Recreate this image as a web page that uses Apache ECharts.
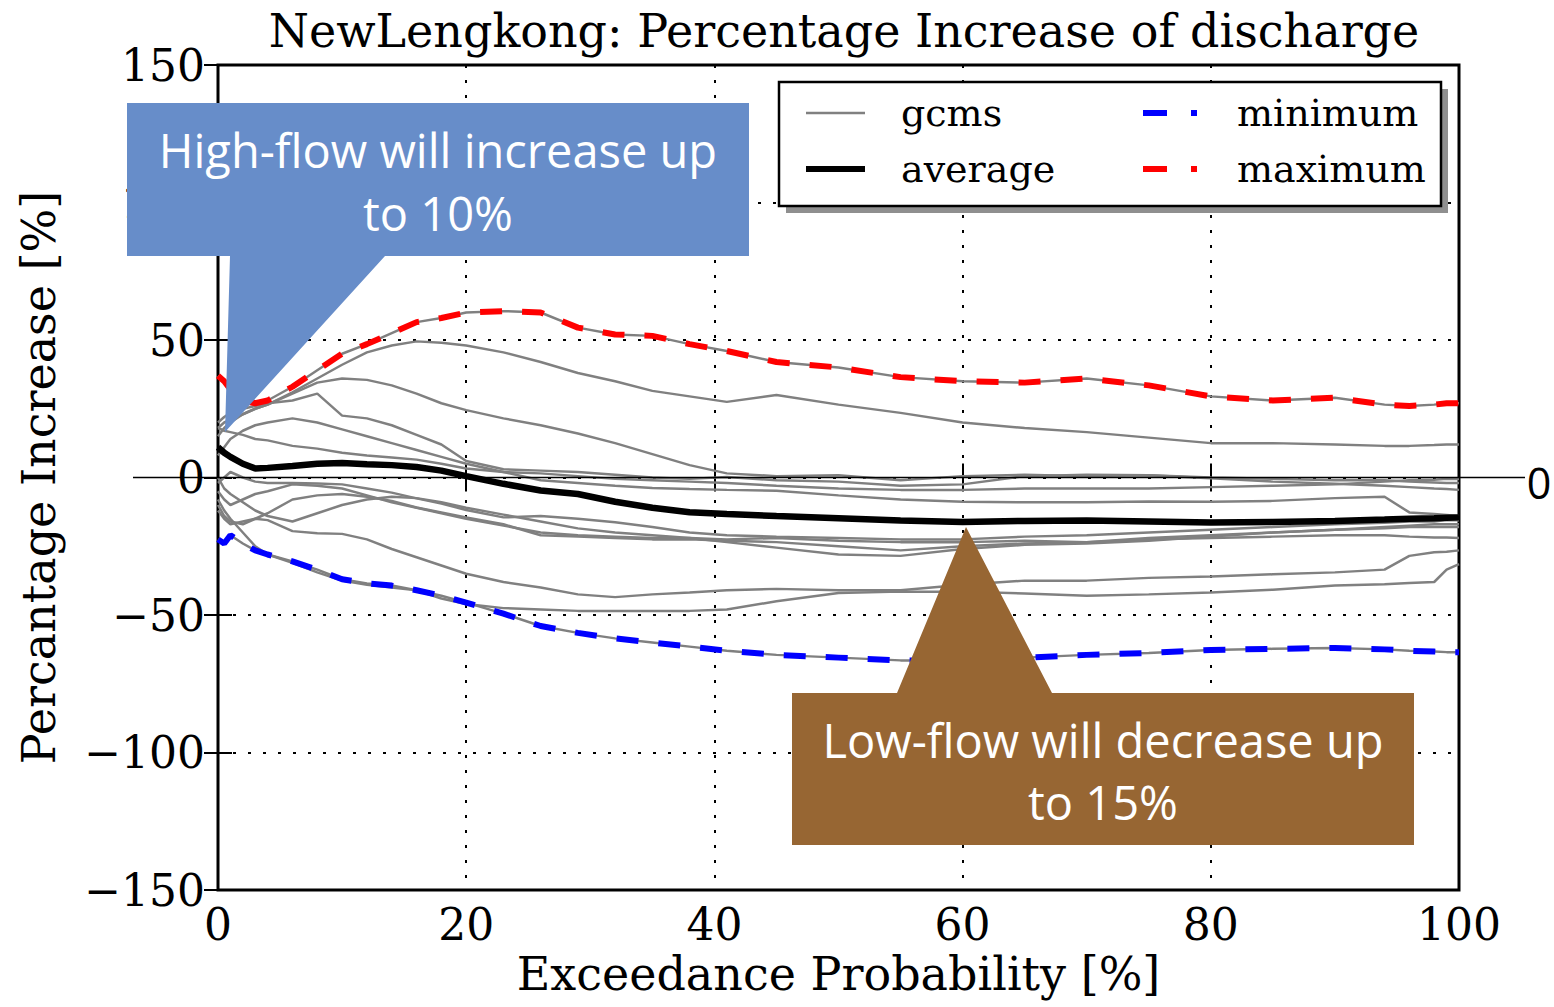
<!DOCTYPE html>
<html>
<head>
<meta charset="utf-8">
<title>NewLengkong: Percentage Increase of discharge</title>
<script src="https://cdn.jsdelivr.net/npm/echarts@6/dist/echarts.min.js"></script>
<style>
  html, body { margin: 0; padding: 0; background: #ffffff; }
  #chart { width: 1554px; height: 1007px; }
</style>
</head>
<body>
<div id="chart"></div>
<script>
// Exceedance probability [%] shared by every curve
const exceedance = [0, 0.5, 1, 2, 3, 4, 6, 8, 10, 12, 14, 16, 18, 20, 23, 26, 29, 32, 35, 38, 41,
                    45, 50, 55, 60, 65, 70, 75, 80, 85, 90, 94, 96, 98, 99, 100];

// Envelope and ensemble mean of the GCM runs (percentage increase of discharge)
const maximumIncrease = [37, 35, 32, 28, 27, 28, 33, 39, 45, 48.5, 52.5, 56.5, 58, 60, 60.5, 60, 54.5, 52, 51.5, 48.5, 46,
                         42, 40, 36.5, 35, 34.5, 36, 33.5, 29.5, 28, 29, 26.5, 26, 26.5, 27, 27];
const minimumIncrease = [-22.5, -24, -21, -24, -26.5, -28, -30.5, -33.5, -37, -38.5, -39.3, -41, -43, -45.5, -49.5, -54, -56.5, -58.5, -60, -61.5, -63,
                         -64.5, -65.5, -66.5, -66.5, -65.5, -64.5, -63.8, -62.7, -62.3, -62, -62.5, -63, -63.3, -63.5, -63.5];
const averageIncrease = [11, 9, 7.5, 5, 3.3, 3.5, 4.2, 5, 5.3, 4.8, 4.5, 3.8, 2.5, 0.5, -2.3, -4.7, -6, -8.8, -11, -12.6, -13.3,
                         -14, -14.8, -15.6, -16.2, -15.8, -15.6, -16, -16.4, -16.2, -15.8, -15.3, -15, -14.8, -14.6, -14.5];

// Individual GCM runs
const gcmC = [18, 20, 21, 23, 25, 26.5, 31, 36, 41, 45.5, 48, 49.5, 49, 48, 45.5, 42, 38, 35, 31.5, 29.5, 27.5,
              30, 26.5, 23.5, 20, 18, 16.5, 14.5, 12.5, 12.5, 12, 11.5, 11.5, 11.8, 12, 12];
const gcmD = [15, 18, 20, 23, 25, 26.5, 30.5, 34.5, 36, 35.5, 33.5, 30.5, 27, 24.5, 21.5, 19, 16, 12.5, 8.5, 4.5, 1.5,
              0.5, 0.8, -1, 0.5, 1, 0.5, 0.8, -0.3, -1.5, -2.3, -3, -3.5, -4, -4.2, -4.5];
const gcmE = [20, 22, 23.5, 25, 26, 27, 28, 30.5, 22.5, 21.5, 19, 15.5, 12, 6, 3, 2.5, 2, 1, 0, -0.5, 0.2,
              -1, -1.5, -3, -2.5, 0.5, 1, 0.8, 0, -0.5, -1, -1, -1.5, -1.8, -2, -2];
const gcmF = [18, 17, 16.5, 15.5, 14, 13.5, 11.5, 10.5, 9, 8, 7.3, 6.5, 5, 3.3, 2, 1.5, 0.5, -0.5, -1, -1.5, -2,
              -3, -4, -4.5, -4.5, -4, -4, -4, -3.5, -3, -2.5, -1.5, -1, -0.8, -0.5, -0.5];
const gcmG = [8, 11, 14, 17, 19, 20, 21.5, 20, 17.5, 15, 12.5, 10, 7.5, 5, 2, -1, -2, -3, -3.8, -4.2, -4.5,
              -4.8, -6.5, -8, -8.8, -9, -9, -8.7, -8.8, -8.5, -7.5, -7, -12.7, -13.3, -13.6, -14];
const gcmH = [-2, 0, 2, 0, -1.5, -2, -2, -2.2, -2.5, -4, -5.5, -7.6, -9.5, -11.8, -14.5, -14, -15, -16.3, -18, -20, -21,
              -21.5, -22, -22.5, -22.5, -21.5, -21, -20, -19, -18, -17, -16.5, -16, -16, -15.5, -15.5];
const gcmI = [-5, -8, -10, -8, -6, -5, -2.5, -3, -4, -6.5, -9, -11, -13, -15, -17.5, -20, -21, -21.5, -22, -22, -22.5,
              -22, -23, -23.5, -23.5, -23, -23.5, -22, -21, -20, -19, -18, -17.5, -17, -17, -17];
const gcmJ = [-10, -14, -16, -17, -15, -13, -8, -6.5, -6, -7, -8.5, -10.9, -12.7, -14.5, -17, -21, -21.5, -22, -22.5, -22.5, -23,
              -23.5, -25, -26.5, -25, -24, -23.5, -22.5, -22, -21.5, -21, -21, -21.5, -21.8, -21.8, -22];
const gcmN = [0, -4, -6, -9, -12, -14, -16, -13, -10, -8, -7, -7.5, -9, -11, -13.5, -16, -18.5, -20, -21, -22, -23.5,
              -25.5, -28, -28.5, -26, -24.5, -24, -23, -21.5, -20, -19, -18.5, -18, -18, -18, -18];
const gcmK = [-12, -15, -17, -16, -15, -15.5, -19.5, -20.3, -20.5, -22.5, -26, -29, -32, -35, -38, -40, -42.5, -43.5, -42.5, -41.8, -41,
              -40.5, -41, -41, -39, -37.5, -37.5, -36.5, -36, -35.2, -34.5, -33.5, -28.5, -27.2, -27, -26.5];
const gcmL = [-8, -12, -15, -20, -25, -28, -31, -34.5, -37.5, -39, -40, -41, -44, -46, -47.5, -48, -48.5, -48.5, -48.5, -48.5, -48,
              -45, -42, -41.5, -41.5, -42.2, -43, -42.5, -41.8, -40.8, -39.3, -38.8, -38.4, -38, -33.5, -31.5];

// The wettest and driest runs form the envelope
const gcms = [maximumIncrease, gcmC, gcmD, gcmE, gcmF, gcmG, gcmH, gcmI, gcmJ, gcmN, gcmK, gcmL, minimumIncrease];

// Axis ticks
const xTicks = [0, 20, 40, 60, 80, 100];
const yTicks = [-150, -100, -50, 0, 50, 100, 150];

const SERIF = "'DejaVu Serif', serif";
const NOTE_FONT = "'Open Sans', sans-serif";

const GCM_GREY = '#808080';
const MIN_BLUE = '#0000ff';
const MAX_RED = '#ff0000';

const chart = echarts.init(document.getElementById('chart'), null, { renderer: 'svg', width: 1554, height: 1007 });

const toPairs = ys => exceedance.map((x, i) => [x, ys[i]]);
const minusSign = v => String(v).replace('-', '\u2212');

const tickStyle = { inside: true, length: 14, lineStyle: { color: '#000', width: 2 } };
const dotted = { show: true, lineStyle: { color: '#000', width: 2, type: [3, 12] } };
const xStep = xTicks[1] - xTicks[0];
const yStep = yTicks[1] - yTicks[0];

const gcmSeries = gcms.map(ys => ({
  name: 'gcms',
  type: 'line',
  data: toPairs(ys),
  symbol: 'none',
  silent: true,
  itemStyle: { color: GCM_GREY },
  lineStyle: { color: GCM_GREY, width: 2.5 },
  z: 2
}));

// legend samples: line only, no marker
const hiddenMarker = { opacity: 0 };
const dashDot = [24, 24, 6, 30];
const legendText = { fontFamily: SERIF, fontSize: 38, lineHeight: 38, color: '#000' };

const option = {
  animation: false,
  backgroundColor: '#ffffff',
  title: {
    text: 'NewLengkong: Percentage Increase of discharge',
    left: 839,
    top: 3,
    textAlign: 'center',
    textStyle: { fontFamily: SERIF, fontSize: 46, fontWeight: 'normal', color: '#000' }
  },
  grid: {
    left: 218, top: 65, width: 1241, height: 825,
    show: true, borderColor: '#000', borderWidth: 3, backgroundColor: 'transparent'
  },
  legend: [
    {
      data: [
        { name: 'gcms', itemStyle: hiddenMarker, lineStyle: { color: GCM_GREY, width: 2.5 } },
        { name: 'average', itemStyle: hiddenMarker, lineStyle: { color: '#000', width: 6 } }
      ],
      orient: 'vertical', left: 803, top: 94, padding: 0,
      itemWidth: 59, itemHeight: 20, itemGap: 18,
      selectedMode: false, z: 150,
      textStyle: Object.assign({ padding: [0, 0, 0, 31] }, legendText)
    },
    {
      data: [
        { name: 'minimum', itemStyle: hiddenMarker, lineStyle: { color: MIN_BLUE, width: 6, type: dashDot } },
        { name: 'maximum', itemStyle: hiddenMarker, lineStyle: { color: MAX_RED, width: 6, type: dashDot } }
      ],
      orient: 'vertical', left: 1140, top: 94, padding: 0,
      itemWidth: 54, itemHeight: 20, itemGap: 18,
      selectedMode: false, z: 150,
      textStyle: Object.assign({ padding: [0, 0, 0, 35] }, legendText)
    }
  ],
  xAxis: [
    {
      type: 'value', position: 'bottom',
      min: xTicks[0], max: xTicks[xTicks.length - 1], interval: xStep,
      name: 'Exceedance Probability [%]', nameLocation: 'middle', nameGap: 61,
      nameTextStyle: { fontFamily: SERIF, fontSize: 46, color: '#000' },
      axisLine: { show: false },
      axisTick: tickStyle,
      axisLabel: { fontFamily: SERIF, fontSize: 44, color: '#000', margin: 12 },
      splitLine: dotted
    },
    {
      type: 'value', position: 'top',
      min: xTicks[0], max: xTicks[xTicks.length - 1], interval: xStep,
      axisLine: { show: false }, axisTick: tickStyle,
      axisLabel: { show: false }, splitLine: { show: false }
    }
  ],
  yAxis: [
    {
      type: 'value', position: 'left',
      min: yTicks[0], max: yTicks[yTicks.length - 1], interval: yStep,
      name: 'Percantage Increase [%]', nameLocation: 'middle', nameGap: 156,
      nameTextStyle: { fontFamily: SERIF, fontSize: 46, color: '#000' },
      axisLine: { show: false },
      axisTick: tickStyle,
      axisLabel: { fontFamily: SERIF, fontSize: 44, color: '#000', margin: 13, formatter: minusSign },
      splitLine: dotted
    },
    {
      type: 'value', position: 'right',
      min: yTicks[0], max: yTicks[yTicks.length - 1], interval: yStep,
      axisLine: { show: false }, axisTick: tickStyle,
      axisLabel: { show: false }, splitLine: { show: false }
    }
  ],
  series: [
    ...gcmSeries,
    {
      name: 'minimum', type: 'line', data: toPairs(minimumIncrease), symbol: 'none', silent: true,
      itemStyle: { color: MIN_BLUE },
      lineStyle: { color: MIN_BLUE, width: 6, type: [22, 20] }, z: 3
    },
    {
      name: 'maximum', type: 'line', data: toPairs(maximumIncrease), symbol: 'none', silent: true,
      itemStyle: { color: MAX_RED },
      lineStyle: { color: MAX_RED, width: 6, type: [22, 20] }, z: 3
    },
    {
      name: 'average', type: 'line', data: toPairs(averageIncrease), symbol: 'none', silent: true,
      itemStyle: { color: '#000' },
      lineStyle: { color: '#000000', width: 6.5 }, z: 4
    }
  ]
};

chart.setOption(option);

// Zero reference line running past both sides of the frame, plus the notes
const zeroY = chart.convertToPixel({ yAxisIndex: 0 }, 0);

const noteText = (text, x, y) => ({
  type: 'text', z: 201,
  style: { text, x, y, fill: '#ffffff', fontFamily: NOTE_FONT, fontSize: 47,
           align: 'center', verticalAlign: 'middle', textAlign: 'center', textVerticalAlign: 'middle' }
});

chart.setOption({
  graphic: [
    // legend frame with its drop shadow
    { type: 'rect', z: 140, shape: { x: 786, y: 89, width: 662, height: 124 }, style: { fill: '#8f8f8f' } },
    { type: 'rect', z: 141, shape: { x: 779, y: 82, width: 662, height: 124 },
      style: { fill: '#ffffff', stroke: '#000', lineWidth: 2.5 } },
    // zero line
    { type: 'line', z: 60, shape: { x1: 133, y1: zeroY, x2: 1525, y2: zeroY }, style: { stroke: '#000', lineWidth: 1.5 } },
    { type: 'text', z: 60, style: { text: '0', x: 1539, y: zeroY + 5, fill: '#000', fontFamily: NOTE_FONT, fontSize: 43,
        align: 'center', verticalAlign: 'middle', textAlign: 'center', textVerticalAlign: 'middle' } },
    // high-flow note
    { type: 'polygon', z: 200,
      shape: { points: [[127, 103], [749, 103], [749, 256], [385, 256], [225, 432], [230, 256], [127, 256]] },
      style: { fill: '#678dc9' } },
    noteText('High-flow will increase up', 438, 150),
    noteText('to 10%', 438, 213),
    // low-flow note
    { type: 'polygon', z: 200,
      shape: { points: [[792, 693], [897, 693], [966, 527], [1052, 693], [1414, 693], [1414, 845], [792, 845]] },
      style: { fill: '#976633' } },
    noteText('Low-flow will decrease up', 1103, 740),
    noteText('to 15%', 1103, 802)
  ]
});
</script>
</body>
</html>
